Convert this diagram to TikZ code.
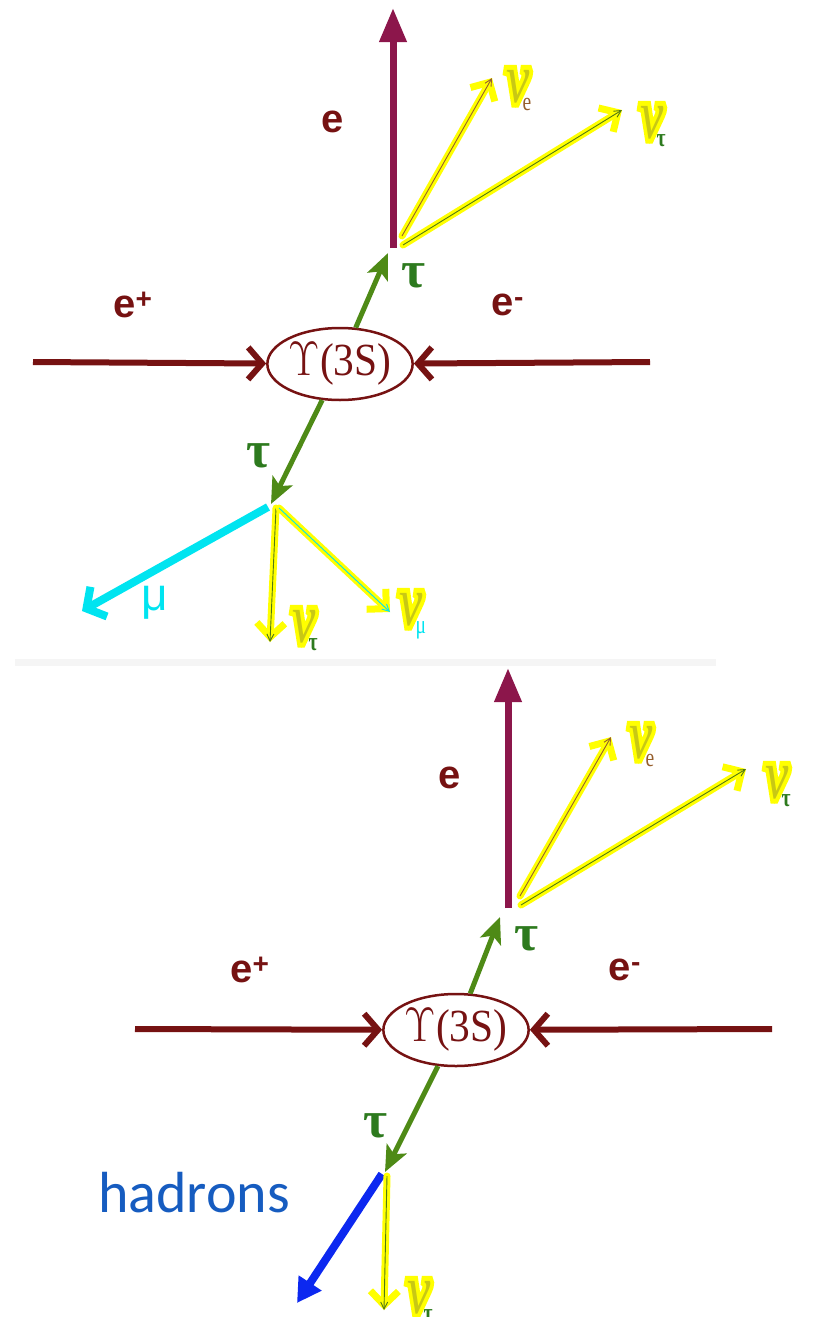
\documentclass[tikz,border=0pt]{standalone}
\usepackage{fontspec}
\usetikzlibrary{arrows.meta,shapes.geometric}
\setmainfont{Liberation Serif}
\newfontfamily\sansf{Liberation Sans}
\newfontfamily\calf{Carlito}
\newfontfamily\nuhalofont[FakeBold=14]{Liberation Serif Italic}
\newfontfamily\nuthinfont{Liberation Serif Italic}
\definecolor{beamred}{RGB}{118,18,18}
\definecolor{epurp}{RGB}{140,22,75}
\definecolor{taug}{RGB}{78,138,22}
\definecolor{taul}{RGB}{45,122,30}
\definecolor{nuy}{RGB}{255,255,0}
\definecolor{nuo}{RGB}{200,200,20}
\definecolor{nubrown}{RGB}{150,95,45}
\definecolor{nuolive}{RGB}{80,120,20}
\definecolor{mucyan}{RGB}{0,228,240}
\definecolor{hadblue}{RGB}{12,40,240}
\definecolor{hadtext}{RGB}{22,92,192}
\newcommand{\nulabel}[2]{{\nuhalofont\color{nuy}\rlap{ν}}{\nuthinfont\color{nuo}ν}\kern-9pt\raisebox{-8pt}{\fontsize{26}{26}\selectfont\color{#2}#1}}
\newcommand{\upsitext}{\scalebox{0.9}[1]{\scalebox{1.95}{\fontsize{25}{25}\selectfont$\Upsilon$}(3S)}}
\begin{document}
\begin{tikzpicture}[x=1pt,y=-1pt,
  upsi/.style={ellipse,draw=beamred,line width=2.5pt,minimum width=135pt,minimum height=72pt,inner sep=0pt,text=beamred,font=\fontsize{46}{46}\selectfont},
  beam/.style={draw=beamred,line width=6pt,-{Straight Barb[length=14pt,width=32pt]}},
  earr/.style={draw=epurp,line width=7pt,-{Triangle[length=34pt,width=26pt]}},
  tauarr/.style={draw=taug,line width=5pt,-{Stealth[length=26pt,width=22pt,inset=6pt]}},
  nuhl/.style={draw=nuy,line width=7pt,line cap=round,-{Straight Barb[length=14pt,width=28pt]}},
  nuin/.style={line width=0.9pt,-{Straight Barb[length=7pt,width=7pt]}},
  muarr/.style={draw=mucyan,line width=8pt,-{Straight Barb[length=14pt,width=34pt]}},
  hadarr/.style={draw=hadblue,line width=8pt,-{Triangle[length=24pt,width=26pt]}},
  elab/.style={text=beamred,font=\sansf\bfseries\fontsize{40}{40}\selectfont},
  taulab/.style={text=taul,font=\bfseries\fontsize{52}{52}\selectfont},
  nul/.style={inner sep=0pt,anchor=base west,font=\fontsize{70}{70}\selectfont,xscale=0.75}
]
\useasboundingbox (0,0) rectangle (813,1317);

% ---------------- top diagram ----------------
\node[upsi] (Y1) at (340,364) {\upsitext};
\coordinate (ep1) at (33,362);
\coordinate (em1) at (650,362);
\draw[beam] (ep1) -- (Y1);
\draw[beam] (em1) -- (Y1);
\node[elab] (lep1) at (133,305) {e\textsuperscript{+}};
\node[elab] (lem1) at (508,305) {e\textsuperscript{-}};

\coordinate (tu1) at (388,253);
\draw[tauarr] (Y1) -- (tu1);
\node[taulab] (ltu1) at (413,276) {τ};
\coordinate (td1) at (271,504);
\draw[tauarr] (Y1) -- (td1);
\node[taulab] (ltd1) at (258,456) {τ};

\coordinate (eb1) at (393,248);
\coordinate (et1) at (393,8);
\draw[earr] (eb1) -- (et1);
\node[elab] (le1) at (333,122) {e};

\coordinate (nes1) at (402,236);
\coordinate (nee1) at (492,78);
\draw[nuhl] (nes1) -- (nee1);
\draw[nuin,draw=nubrown] (nes1) -- (nee1);
\node[nul] (lnue1) at (506,102) {\nulabel{e}{nubrown}};

\coordinate (nts1) at (403,245);
\coordinate (nte1) at (622,110);
\draw[nuhl] (nts1) -- (nte1);
\draw[nuin,draw=nuolive] (nts1) -- (nte1);
\node[nul] (lnut1) at (640,138) {\nulabel{\bfseries τ}{taul}};

\coordinate (ms1) at (268,507);
\coordinate (me1) at (82,611);
\draw[muarr] (ms1) -- (me1);
\node[text=mucyan,font=\sansf\fontsize{46}{46}\selectfont] (lmu1) at (155,603) {μ};

\coordinate (ns1) at (276,508);
\coordinate (ne1) at (270,642);
\draw[nuhl] (ns1) -- (ne1);
\draw[nuin,draw=nuolive] (ns1) -- (ne1);
\node[nul] (lnut2) at (292,642) {\nulabel{\bfseries τ}{taul}};

\coordinate (nms1) at (279,508);
\coordinate (nme1) at (390,612);
\draw[nuhl] (nms1) -- (nme1);
\draw[nuin,draw=mucyan] (nms1) -- (nme1);
\node[nul] (lnum1) at (399,625) {\nulabel{μ}{mucyan}};

% separator
\fill[black!4] (15,659) rectangle (716,666);

% ---------------- bottom diagram ----------------
\node[upsi] (Y2) at (456,1030) {\upsitext};
\coordinate (ep2) at (135,1029);
\coordinate (em2) at (772,1029);
\draw[beam] (ep2) -- (Y2);
\draw[beam] (em2) -- (Y2);
\node[elab] (lep2) at (250,970) {e\textsuperscript{+}};
\node[elab] (lem2) at (625,970) {e\textsuperscript{-}};

\coordinate (tu2) at (500,917);
\draw[tauarr] (Y2) -- (tu2);
\node[taulab] (ltu2) at (526,939) {τ};
\coordinate (td2) at (385,1172);
\draw[tauarr] (Y2) -- (td2);
\node[taulab] (ltd2) at (375,1126) {τ};

\coordinate (eb2) at (508,908);
\coordinate (et2) at (508,668);
\draw[earr] (eb2) -- (et2);
\node[elab] (le2) at (450,778) {e};

\coordinate (nes2) at (520,896);
\coordinate (nee2) at (611,737);
\draw[nuhl] (nes2) -- (nee2);
\draw[nuin,draw=nubrown] (nes2) -- (nee2);
\node[nul] (lnue2) at (629,758) {\nulabel{e}{nubrown}};

\coordinate (nts2) at (521,905);
\coordinate (nte2) at (746,769);
\draw[nuhl] (nts2) -- (nte2);
\draw[nuin,draw=nuolive] (nts2) -- (nte2);
\node[nul] (lnut3) at (765,798) {\nulabel{\bfseries τ}{taul}};

\coordinate (hs) at (382,1174);
\coordinate (he) at (297,1303);
\draw[hadarr] (hs) -- (he);
\node[text=hadtext,font=\calf\fontsize{58}{58}\selectfont] (lhad) at (194,1193) {hadrons};

\coordinate (ns2) at (387,1176);
\coordinate (ne2) at (384,1310);
\draw[nuhl] (ns2) -- (ne2);
\draw[nuin,draw=nuolive] (ns2) -- (ne2);
\node[nul] (lnut4) at (407,1313) {\nulabel{\bfseries τ}{taul}};
\end{tikzpicture}
\end{document}
